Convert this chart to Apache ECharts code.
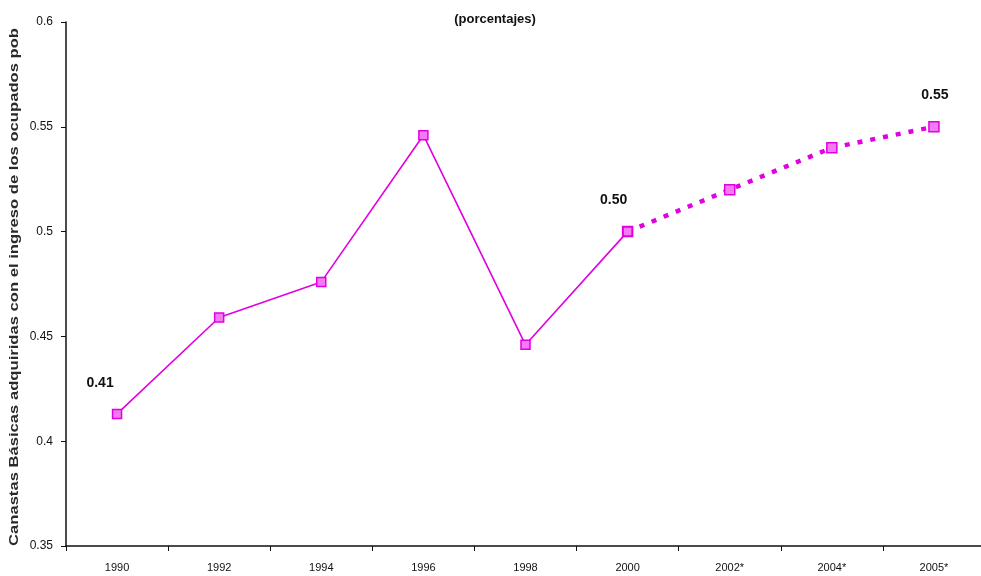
<!DOCTYPE html>
<html>
<head>
<meta charset="utf-8">
<script src="https://cdn.jsdelivr.net/npm/echarts@6/dist/echarts.min.js"></script>
<style>
  html, body { margin: 0; padding: 0; background: #fff; }
  #chart { width: 981px; height: 576px; }
</style>
</head>
<body>
<div id="chart"></div>
<script>
// Years on the category axis (starred years are estimates)
const categories = ['1990', '1992', '1994', '1996', '1998', '2000', '2002*', '2004*', '2005*'];
// Observed values, 1990-2000
const observed = [0.413, 0.459, 0.476, 0.546, 0.446, 0.500, null, null, null];
// Projected values, 2000-2005
const projected = [null, null, null, null, null, 0.500, 0.520, 0.540, 0.550];
// Years whose value is written next to the point
const labelledYears = ['1990', '2000', '2005*'];
// Value-axis tick range
const yMin = 0.35, yMax = 0.6, yStep = 0.05;
const yTitle = 'Canastas Básicas adquiridas con el ingreso de los ocupados pob';

const magenta = '#e000e0';
const font = "'Liberation Sans', Arial, sans-serif";

// Long vertical axis title: stretched along its length to run the full axis height
const titleFont = 'bold 12px ' + font;
const titleSpan = 518;
const measureCtx = document.createElement('canvas').getContext('2d');
measureCtx.font = titleFont;
const titleStretch = titleSpan / measureCtx.measureText(yTitle).width;

function withLabels(values, offsets) {
  return values.map((v, i) => {
    const year = categories[i];
    if (v !== null && labelledYears.includes(year) && offsets[year]) {
      return {
        value: v,
        label: {
          show: true,
          formatter: v.toFixed(2),
          position: 'top',
          offset: offsets[year],
          fontFamily: font,
          fontWeight: 'bold',
          fontSize: 14,
          color: '#111'
        }
      };
    }
    return v;
  });
}

const chart = echarts.init(document.getElementById('chart'), null, { renderer: 'canvas' });
chart.setOption({
  backgroundColor: '#fff',
  animation: false,
  title: {
    text: '(porcentajes)',
    left: 490,
    top: 8,
    textAlign: 'center',
    textStyle: { fontFamily: font, fontWeight: 'bold', fontSize: 13, color: '#111' }
  },
  graphic: [{
    type: 'text',
    x: 15,
    y: 287,
    rotation: Math.PI / 2,
    scaleX: titleStretch,
    style: {
      text: yTitle,
      font: titleFont,
      fill: '#2a2a2a',
      align: 'center',
      verticalAlign: 'middle'
    }
  }],
  grid: { left: 66, top: 22, width: 919, height: 524, containLabel: false, outerBoundsMode: 'none' },
  xAxis: {
    type: 'category',
    data: categories,
    boundaryGap: true,
    axisLine: { lineStyle: { color: '#111', width: 1.5 } },
    axisTick: { show: true, length: 5, lineStyle: { color: '#111' } },
    axisLabel: { fontFamily: font, fontSize: 11, color: '#111', margin: 16 },
    splitLine: { show: false }
  },
  yAxis: {
    type: 'value',
    min: yMin,
    max: yMax,
    interval: yStep,
    axisLine: { show: true, lineStyle: { color: '#111', width: 1.5 } },
    axisTick: { show: true, length: 5, lineStyle: { color: '#111' } },
    axisLabel: {
      fontFamily: font, fontSize: 12, color: '#111', margin: 13,
      formatter: v => String(parseFloat(v.toFixed(2)))
    },
    splitLine: { show: false }
  },
  series: [
    {
      name: 'Observado',
      type: 'line',
      data: withLabels(observed, { '1990': [-17, -14], '2000': [-14, -14] }),
      symbol: 'rect',
      symbolSize: 9,
      lineStyle: { color: magenta, width: 1.6 },
      itemStyle: { color: '#f27af2', borderColor: magenta, borderWidth: 1.5 },
      connectNulls: false,
      z: 3
    },
    {
      name: 'Proyectado',
      type: 'line',
      data: withLabels(projected, { '2005*': [1, -14] }),
      symbol: 'rect',
      symbolSize: 10,
      lineStyle: { color: magenta, width: 4.5, type: [5, 8], cap: 'butt' },
      itemStyle: { color: '#f27af2', borderColor: magenta, borderWidth: 1.5 },
      connectNulls: false,
      z: 2
    }
  ]
});
</script>
</body>
</html>
